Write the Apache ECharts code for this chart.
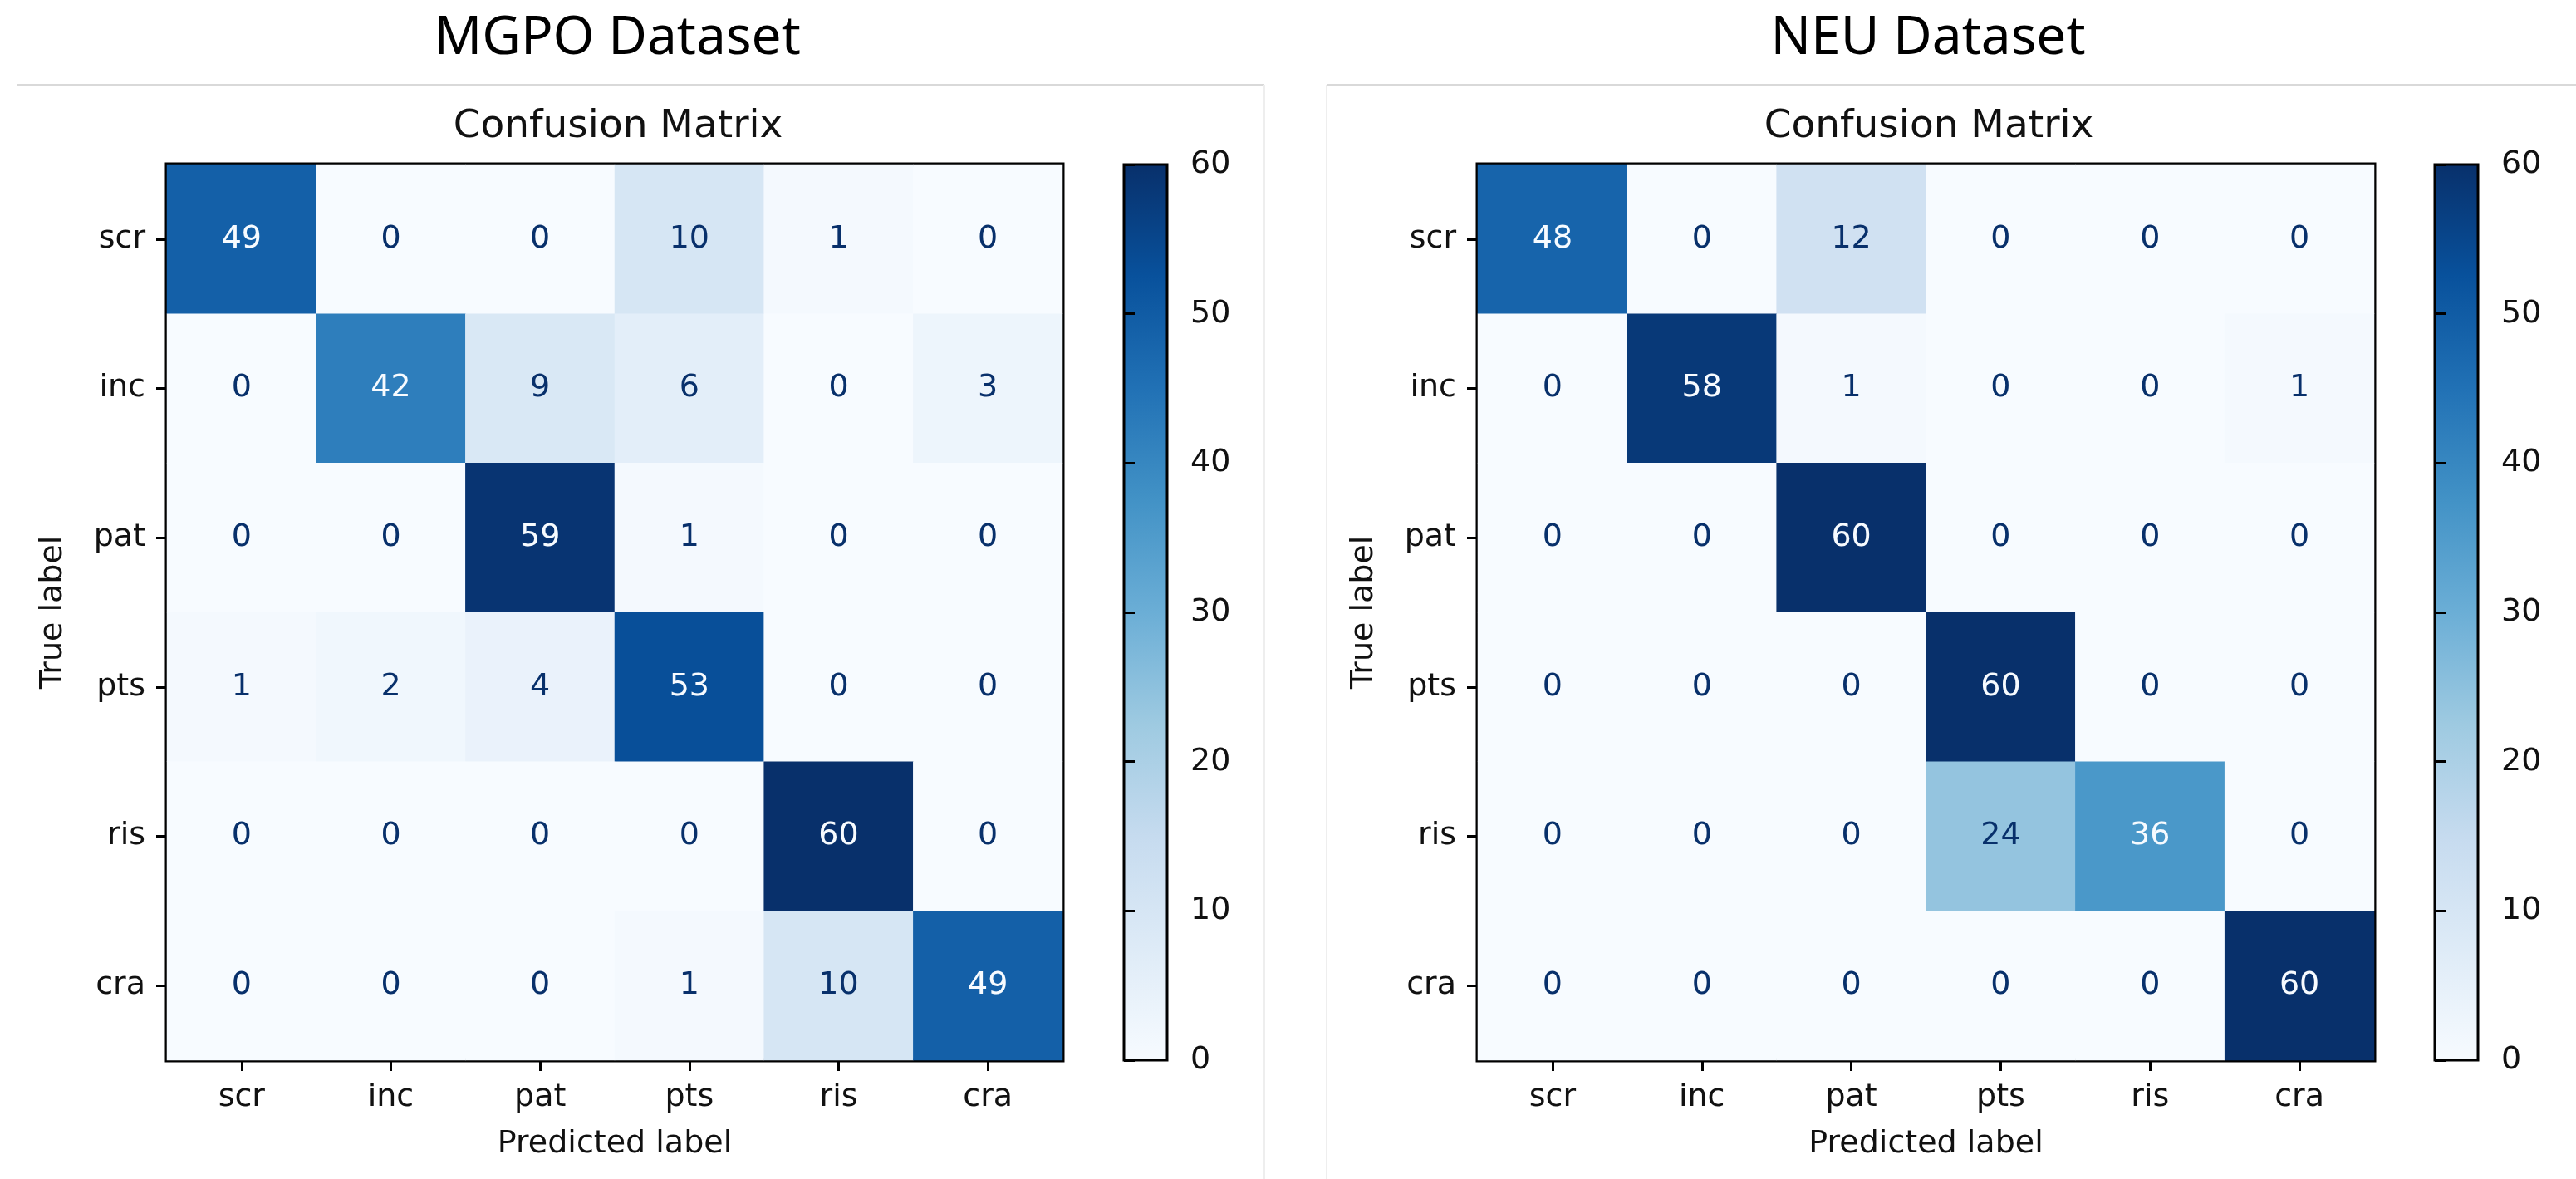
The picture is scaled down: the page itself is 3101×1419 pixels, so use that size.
<!DOCTYPE html>
<html>
<head>
<meta charset="utf-8">
<script src="https://cdn.jsdelivr.net/npm/echarts@6/dist/echarts.min.js"></script>
<style>
html,body{margin:0;padding:0;background:#fff;}
#chart{width:3101px;height:1419px;}
</style>
</head>
<body>
<div id="chart"></div>
<script>
// ---- data ----
const classLabels = ['scr', 'inc', 'pat', 'pts', 'ris', 'cra'];
const colorbarTicks = [0, 10, 20, 30, 40, 50, 60];
const panelTitles = ['MGPO Dataset', 'NEU Dataset'];
const subTitle = 'Confusion Matrix';

// MGPO dataset confusion matrix rows (true label) -> predicted counts
const mgpo_scr = [49, 0, 0, 10, 1, 0];
const mgpo_inc = [0, 42, 9, 6, 0, 3];
const mgpo_pat = [0, 0, 59, 1, 0, 0];
const mgpo_pts = [1, 2, 4, 53, 0, 0];
const mgpo_ris = [0, 0, 0, 0, 60, 0];
const mgpo_cra = [0, 0, 0, 1, 10, 49];

// NEU dataset confusion matrix rows
const neu_scr = [48, 0, 12, 0, 0, 0];
const neu_inc = [0, 58, 1, 0, 0, 1];
const neu_pat = [0, 0, 60, 0, 0, 0];
const neu_pts = [0, 0, 0, 60, 0, 0];
const neu_ris = [0, 0, 0, 24, 36, 0];
const neu_cra = [0, 0, 0, 0, 0, 60];

const mgpoRows = [mgpo_scr, mgpo_inc, mgpo_pat, mgpo_pts, mgpo_ris, mgpo_cra];
const neuRows = [neu_scr, neu_inc, neu_pat, neu_pts, neu_ris, neu_cra];

// ---- styling ----
const BLUES = ['#f7fbff', '#deebf7', '#c6dbef', '#9ecae1', '#6baed6', '#4292c6', '#2171b5', '#08519c', '#08306b'];
const VMIN = 0, VMAX = 60, THRESH = (VMIN + VMAX) / 2;
const FONT = 'DejaVu Sans';
const TXT = '#111';

function toHeat(rows) {
  const out = [];
  rows.forEach((row, yi) => {
    row.forEach((v, xi) => {
      out.push({
        value: [xi, yi, v],
        label: { color: v >= THRESH ? BLUES[0] : BLUES[8] }
      });
    });
  });
  return out;
}

const chart = echarts.init(document.getElementById('chart'), null, { renderer: 'canvas' });

const panels = [
  { heat: { left: 201, top: 198, width: 1078, height: 1078 }, cbar: { left: 1353, top: 198, width: 52, height: 1078 }, rows: mgpoRows, cx: 740 },
  { heat: { left: 1779, top: 198, width: 1079, height: 1078 }, cbar: { left: 2931, top: 198, width: 52, height: 1078 }, rows: neuRows, cx: 2318 }
];

const gradientStops = BLUES.map((c, i) => ({ offset: i / (BLUES.length - 1), color: c }));

const grids = [], xAxes = [], yAxes = [], series = [], visualMaps = [], graphics = [];

panels.forEach((p, pi) => {
  // heatmap grid
  grids.push(Object.assign({ show: true, borderColor: '#000', borderWidth: 5, backgroundColor: 'transparent', containLabel: false }, p.heat));
  const hg = grids.length - 1;
  xAxes.push({
    type: 'category', gridIndex: hg, data: classLabels, position: 'bottom',
    axisLine: { show: false },
    axisTick: { show: true, alignWithLabel: true, length: 13, lineStyle: { color: '#000', width: 3 } },
    axisLabel: { fontFamily: FONT, fontSize: 38, color: TXT, margin: 26 },
    splitLine: { show: false }, splitArea: { show: false },
    name: 'Predicted label', nameLocation: 'middle', nameGap: 82,
    nameTextStyle: { fontFamily: FONT, fontSize: 38, color: TXT }
  });
  yAxes.push({
    type: 'category', gridIndex: hg, data: classLabels, inverse: true,
    axisLine: { show: false },
    axisTick: { show: true, alignWithLabel: true, length: 13, lineStyle: { color: '#000', width: 3 } },
    axisLabel: { fontFamily: FONT, fontSize: 38, color: TXT, margin: 26 },
    splitLine: { show: false }, splitArea: { show: false },
    name: 'True label', nameLocation: 'middle', nameGap: 118, nameRotate: 90,
    nameTextStyle: { fontFamily: FONT, fontSize: 38, color: TXT }
  });
  series.push({
    type: 'heatmap', xAxisIndex: xAxes.length - 1, yAxisIndex: yAxes.length - 1,
    data: toHeat(p.rows),
    label: { show: true, fontFamily: FONT, fontSize: 38, formatter: (d) => String(d.value[2]) },
    itemStyle: { borderWidth: 0 },
    emphasis: { disabled: true },
    z: 1
  });
  visualMaps.push({
    type: 'continuous', show: false, min: VMIN, max: VMAX, dimension: 2,
    seriesIndex: series.length - 1, inRange: { color: BLUES }
  });

  // colorbar grid
  grids.push(Object.assign({
    show: true, borderColor: '#000', borderWidth: 3,
    backgroundColor: new echarts.graphic.LinearGradient(0, 1, 0, 0, gradientStops)
  }, p.cbar));
  const cg = grids.length - 1;
  xAxes.push({ type: 'value', gridIndex: cg, show: false, min: 0, max: 1 });
  yAxes.push({
    type: 'value', gridIndex: cg, position: 'right', min: colorbarTicks[0], max: colorbarTicks[colorbarTicks.length - 1], interval: 10,
    axisLine: { show: false },
    axisTick: { show: true, length: 13, lineStyle: { color: '#000', width: 3 } },
    axisLabel: { fontFamily: FONT, fontSize: 38, color: TXT, margin: 28, formatter: (v) => colorbarTicks.indexOf(v) >= 0 ? String(v) : '' },
    splitLine: { show: false }
  });

  // titles
  graphics.push({
    type: 'text', x: p.cx + 3, y: 47,
    style: { text: panelTitles[pi], fontFamily: 'Noto Sans', fontSize: 64, fill: '#000', align: 'center', verticalAlign: 'middle' }
  });
  graphics.push({
    type: 'text', x: p.cx + 4, y: 153,
    style: { text: subTitle, fontFamily: FONT, fontSize: 47, fill: TXT, align: 'center', verticalAlign: 'middle' }
  });
});

// panel separators / faint borders
graphics.push({ type: 'line', shape: { x1: 20, y1: 102, x2: 1522, y2: 102 }, style: { stroke: '#d9d9d9', lineWidth: 2 } });
graphics.push({ type: 'line', shape: { x1: 1597, y1: 102, x2: 3101, y2: 102 }, style: { stroke: '#d9d9d9', lineWidth: 2 } });
graphics.push({ type: 'line', shape: { x1: 1522, y1: 102, x2: 1522, y2: 1419 }, style: { stroke: '#eeeeee', lineWidth: 2 } });
graphics.push({ type: 'line', shape: { x1: 1597, y1: 102, x2: 1597, y2: 1419 }, style: { stroke: '#eeeeee', lineWidth: 2 } });

chart.setOption({
  backgroundColor: '#fff',
  animation: false,
  grid: grids,
  xAxis: xAxes,
  yAxis: yAxes,
  visualMap: visualMaps,
  series: series,
  graphic: graphics
});
</script>
</body>
</html>
